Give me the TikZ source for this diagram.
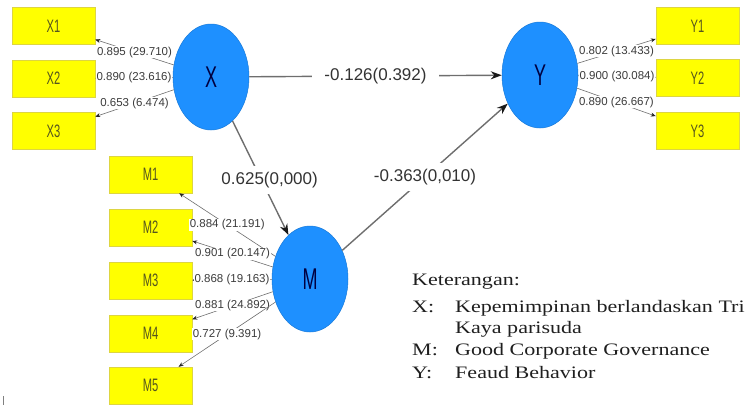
\documentclass[tikz,border=0pt]{standalone}
\usepackage{fontspec}
\setmainfont{Liberation Serif}
\newfontfamily\legendfont[FakeStretch=1.26]{Liberation Serif}
\newfontfamily\plsfont{Liberation Sans}
\newfontfamily\plsnarrow[FakeStretch=0.62]{Liberation Sans}
\newfontfamily\plsnarrower[FakeStretch=0.6]{Liberation Sans}
\usetikzlibrary{shapes.geometric,arrows.meta}
\definecolor{plsblue}{RGB}{30,144,255}
\definecolor{plsyellow}{RGB}{255,255,0}
\definecolor{boxtext}{RGB}{85,85,30}
\definecolor{lbltext}{RGB}{60,60,60}
\definecolor{pathgray}{RGB}{110,110,110}
\tikzset{
  latent/.style={ellipse, fill=plsblue, draw=plsblue!85!black, line width=0.5pt,
    minimum width=76pt, minimum height=106pt, inner sep=0pt,
    font=\plsnarrower\fontsize{30}{30}\selectfont, text=black!75!blue},
  indic/.style={rectangle, fill=plsyellow, draw=yellow!70!gray, line width=0.5pt,
    minimum width=83pt, minimum height=37pt, inner sep=0pt,
    font=\plsnarrow\fontsize{18}{18}\selectfont, text=boxtext},
  loadarrow/.style={draw=pathgray, line width=0.6pt,
    -{Stealth[length=5pt,width=4pt,color=black!85]}},
  loadlbl/.style={fill=white, inner sep=0.6pt, text=lbltext,
    font=\plsfont\fontsize{11.5}{11.5}\selectfont},
  patharrow/.style={draw=pathgray, line width=1.4pt,
    -{Stealth[length=11pt,width=8pt,color=black!90]}},
  pathlbl/.style={fill=white, inner xsep=12pt, inner ysep=6pt, text=black!80,
    font=\plsfont\fontsize{17}{17}\selectfont},
  legend/.style={anchor=base west, inner sep=0pt, text=black!88,
    font=\legendfont\fontsize{17.5}{17.5}\selectfont}
}
\begin{document}
\begin{tikzpicture}[x=1pt,y=-1pt]
\useasboundingbox (0,0) rectangle (746,407);
% latent variables
\node[latent] (X) at (211,77) {X};
\node[latent] (Y) at (540,75) {Y};
\node[latent] (M) at (310,279) {M};
% indicators
\node[indic] (X1) at (53.5,26) {X1};
\node[indic] (X2) at (53.5,78.5) {X2};
\node[indic] (X3) at (53.5,131) {X3};
\node[indic] (Y1) at (697.5,26) {Y1};
\node[indic] (Y2) at (697.5,78) {Y2};
\node[indic] (Y3) at (697.5,131) {Y3};
\node[indic] (M1) at (150.5,174.5) {M1};
\node[indic] (M2) at (150.5,227.5) {M2};
\node[indic] (M3) at (150.5,280.5) {M3};
\node[indic] (M4) at (150.5,333.5) {M4};
\node[indic] (M5) at (150.5,385.5) {M5};
% structural paths
\draw[patharrow] (X) -- node[pathlbl] {-0.126(0.392)} (Y);
\draw[patharrow] (X) -- node[pathlbl, pos=0.52, xshift=8pt] {0.625(0,000)} (M);
\draw[patharrow] (M) -- node[pathlbl] {-0.363(0,010)} (Y);
% outer loadings
\draw[loadarrow] (X) -- node[loadlbl] {0.895 (29.710)} (X1);
\draw[loadarrow] (X) -- node[loadlbl] {0.890 (23.616)} (X2);
\draw[loadarrow] (X) -- node[loadlbl] {0.653 (6.474)} (X3);
\draw[loadarrow] (Y) -- node[loadlbl] {0.802 (13.433)} (Y1);
\draw[loadarrow] (Y) -- node[loadlbl] {0.900 (30.084)} (Y2);
\draw[loadarrow] (Y) -- node[loadlbl] {0.890 (26.667)} (Y3);
\draw[loadarrow] (M) -- node[loadlbl] {0.884 (21.191)} (M1);
\draw[loadarrow] (M) -- node[loadlbl] {0.901 (20.147)} (M2);
\draw[loadarrow] (M) -- node[loadlbl] {0.868 (19.163)} (M3);
\draw[loadarrow] (M) -- node[loadlbl] {0.881 (24.892)} (M4);
\draw[loadarrow] (M) -- node[loadlbl] {0.727 (9.391)} (M5);
% legend
\node[legend] (leg0) at (412,285) {Keterangan:};
\node[legend] (legX) at (412,312) {X:};
\node[legend] (legXt) at (455,312) {Kepemimpinan berlandaskan Tri};
\node[legend] (legXt2) at (455,333) {Kaya parisuda};
\node[legend] (legM) at (412,355) {M:};
\node[legend] (legMt) at (455,355) {Good Corporate Governance};
\node[legend] (legY) at (412,378) {Y:};
\node[legend] (legYt) at (455,378) {Feaud Behavior};
% small mark at bottom left
\fill[gray] (2.5,396) rectangle (4,405);
\end{tikzpicture}
\end{document}
